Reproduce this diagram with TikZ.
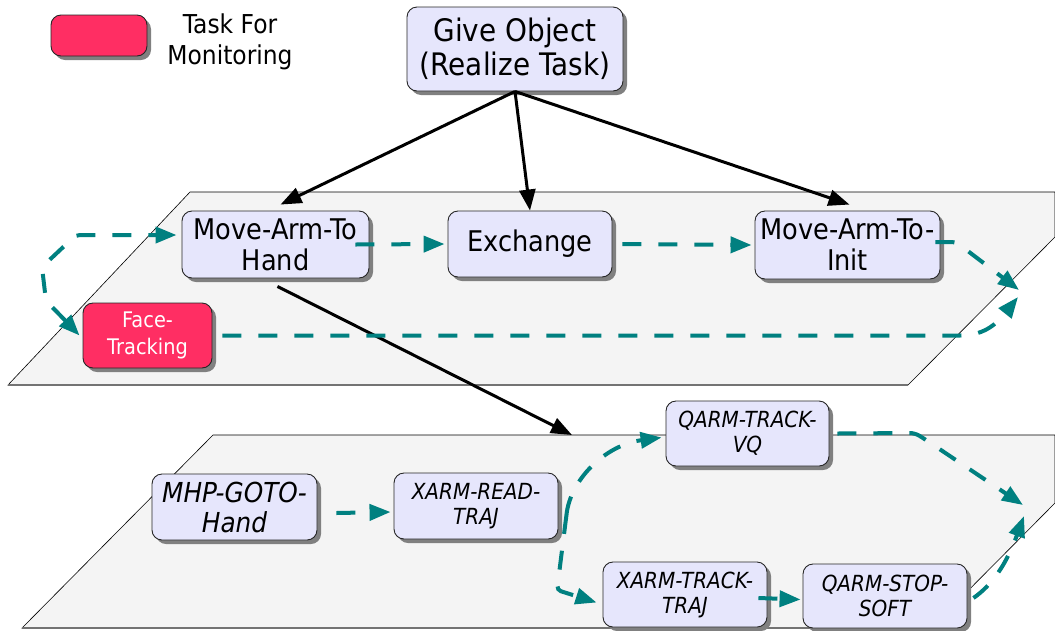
\documentclass[tikz,border=0pt]{standalone}
\usepackage{fontspec}
\setmainfont{DejaVu Sans}[FakeStretch=0.9]
\usetikzlibrary{arrows.meta,shadows}
\definecolor{lav}{RGB}{230,230,252}
\definecolor{monpink}{RGB}{255,46,99}
\definecolor{flowteal}{RGB}{0,128,128}
\definecolor{planegray}{RGB}{244,244,244}
\tikzset{
  box/.style={draw=black!85, line width=0.9pt, rounded corners=10pt, fill=lav,
    inner sep=0pt, align=center,
    drop shadow={shadow xshift=4pt, shadow yshift=-4pt, fill=black!50, opacity=1}},
  monbox/.style={box, fill=monpink, text=white},
  sz/.style 2 args={minimum width=#1pt, minimum height=#2pt},
  bigtxt/.style={font=\fontsize{28.5}{31}\selectfont},
  smalltxt/.style={font=\fontsize{22.2}{25}\selectfont\itshape},
  link/.style={draw=black, line width=3pt, -{Triangle[length=21pt,width=16pt]}},
  flow/.style={draw=flowteal, line width=4pt, dash pattern=on 19pt off 17pt,
    -{Triangle[length=21pt,width=16pt]}},
  bothflow/.style={flow, {Triangle[length=21pt,width=16pt]}-{Triangle[length=21pt,width=16pt]}},
  plane/.style={fill=planegray, draw=black, line width=0.6pt},
  planeedge/.style={draw=black!55, line width=2pt}
}
\begin{document}
\begin{tikzpicture}[x=1pt,y=-1pt]
\useasboundingbox (0,0) rectangle (1055,630);

% the two task layers
\draw[plane] (190,192) -- (1055,192) -- (1055,237) -- (908,385) -- (8,385) -- cycle;
\draw[planeedge] (8,385) -- (908,385);
\draw[plane] (213,435) -- (1055,435) -- (1055,503) -- (931,628) -- (22,628) -- cycle;
\draw[planeedge] (22,628) -- (931,628);

% legend
\node[monbox, sz={96}{41}] (legend) at (99,35.5) {};
\node[align=center, font=\fontsize{26}{31}\selectfont] (legendtxt) at (230,42) {Task For\\Monitoring};

% top task
\node[box, sz={216}{84}, font=\fontsize{31}{34}\selectfont] (give) at (515,49) {Give Object\\(Realize Task)};

% upper layer
\node[box, sz={187}{67}, bigtxt] (mah) at (275.5,244.5) {Move-Arm-To\\Hand};
\node[monbox, sz={129}{65}, font=\fontsize{21.5}{27}\selectfont] (face) at (147.5,335.5) {Face-\\Tracking};
\node[box, sz={164}{66}, bigtxt] (exch) at (530,244) {Exchange};
\node[box, sz={185}{68}, bigtxt] (mai) at (847.5,245) {Move-Arm-To-\\Init};

% lower layer
\node[box, sz={165}{66}, font=\fontsize{27.5}{30}\selectfont\itshape] (mhp) at (234.5,507) {MHP-GOTO-\\Hand};
\node[box, sz={164}{66}, smalltxt] (xrt) at (476,506) {XARM-READ-\\TRAJ};
\node[box, sz={163}{65}, smalltxt] (qtv) at (747.5,433.5) {QARM-TRACK-\\VQ};
\node[box, sz={164}{65}, smalltxt] (xtt) at (685,594.5) {XARM-TRACK-\\TRAJ};
\node[box, sz={164}{64}, smalltxt] (qss) at (885,596) {QARM-STOP-\\SOFT};

% free ends of connectors
\coordinate (lowtop) at (572,435);
\coordinate (upjoinA) at (1019,290);
\coordinate (upjoinB) at (1018,297);
\coordinate (lowjoinA) at (1023,505);
\coordinate (lowjoinB) at (1024,516);

% decomposition links
\draw[link] (give.south) -- ([xshift=5pt,yshift=6pt]mah.north);
\draw[link] (give.south) -- (exch.north);
\draw[link] (give.south) -- ([xshift=2pt,yshift=6pt]mai.north);
\draw[link] ([xshift=2pt,yshift=-8pt]mah.south) -- (lowtop);

% upper layer flow
\draw[bothflow, rounded corners=4pt] ([xshift=-3pt]face.west) -- (57,312) -- (46,301) -- (42,267) -- (76,235) -- ([xshift=-5pt,yshift=9.5pt]mah.west);
\draw[flow] ([xshift=-14pt]mah.east) -- ([xshift=-3pt]exch.west);
\draw[flow] ([xshift=10pt]exch.east) -- ([xshift=-3pt]mai.west);
\draw[flow, rounded corners=4pt] ([xshift=-5pt,yshift=3pt]mai.east) -- (956,242) -- (upjoinA);
\draw[flow] ([xshift=10pt]face.east) -- (960,335.5) .. controls (982,335.5) and (995,326) .. (upjoinB);

% lower layer flow
\draw[flow] ([xshift=19pt,yshift=-6pt]mhp.east) -- ([xshift=-3pt,yshift=-6pt]xrt.west);
\draw[flow] ([xshift=8pt,yshift=-9pt]xrt.east) .. controls (570,480) and (605,445) .. ([xshift=-4pt,yshift=-4pt]qtv.west);
\draw[flow, rounded corners=4pt] ([xshift=8pt,yshift=-9pt]xrt.east) -- (557,590) -- ([xshift=-6pt,yshift=-8pt]xtt.west);
\draw[flow] ([xshift=-9pt,yshift=-3.5pt]xtt.east) -- ([xshift=-2pt,yshift=-3.5pt]qss.west);
\draw[flow, rounded corners=5pt] ([xshift=8pt]qtv.east) -- (915,433) -- (923,438) -- (lowjoinA);
\draw[flow] ([xshift=6pt,yshift=-2pt]qss.east) .. controls (992,585) and (1006,565) .. (lowjoinB);
\end{tikzpicture}
\end{document}
